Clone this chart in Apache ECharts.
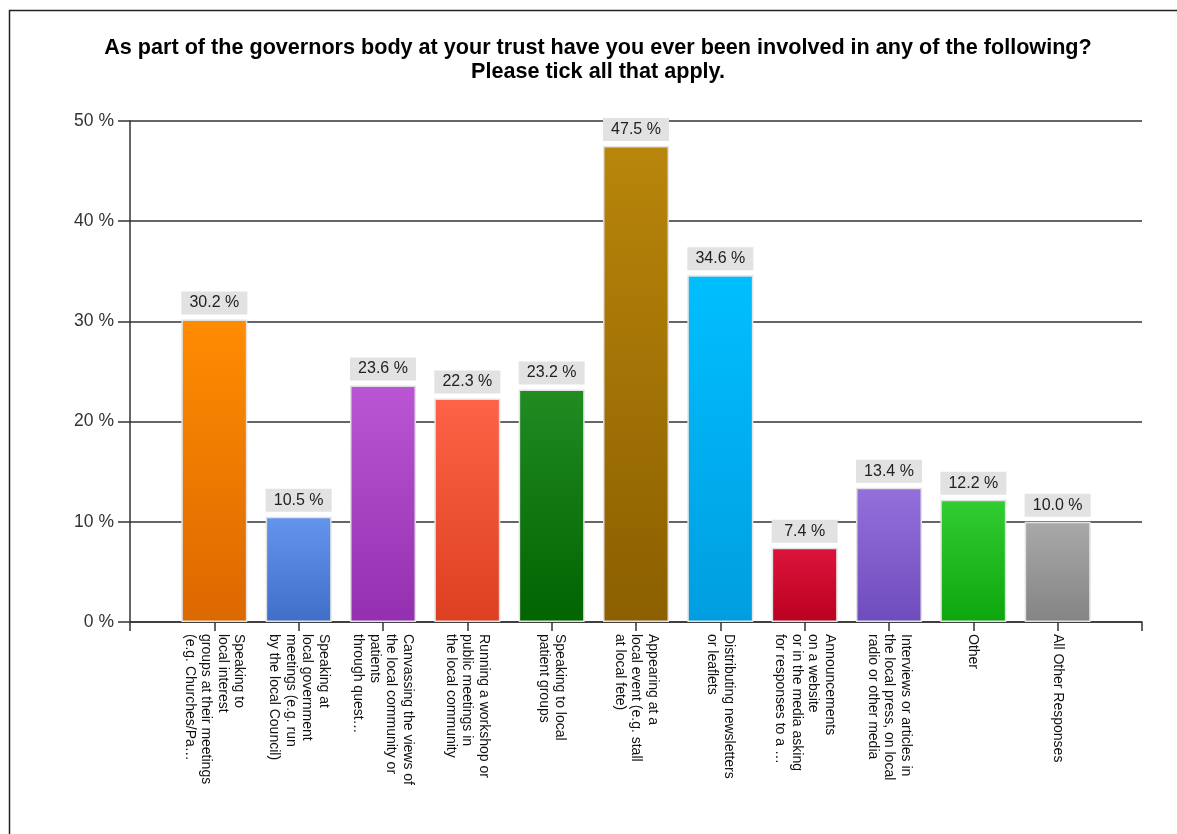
<!DOCTYPE html>
<html>
<head>
<meta charset="utf-8">
<script src="https://cdn.jsdelivr.net/npm/echarts@6/dist/echarts.min.js"></script>
<style>
  html, body { margin: 0; padding: 0; background: #fff; }
  #chart { width: 1177px; height: 834px; }
</style>
</head>
<body>
<div id="chart"></div>
<script>
// Survey answers (multi-select) with share of respondents
const titleText = 'As part of the governors body at your trust have you ever been involved in any of the following?\nPlease tick all that apply.';
const categories = [
  'Speaking to\nlocal interest\ngroups at their meetings\n(e.g. Churches/Pa…',
  'Speaking at\nlocal government\nmeetings (e.g. run\nby the local Council)',
  'Canvassing the views of\nthe local community or\npatients\nthrough quest…',
  'Running a workshop or\npublic meetings in\nthe local community',
  'Speaking to local\npatient groups',
  'Appearing at a\nlocal event (e.g. stall\nat local fete)',
  'Distributing newsletters\nor leaflets',
  'Announcements\non a website\nor in the media asking\nfor responses to a …',
  'Interviews or articles in\nthe local press, on local\nradio or other media',
  'Other',
  'All Other Responses'
];
const values = [30.2, 10.5, 23.6, 22.3, 23.2, 47.5, 34.6, 7.4, 13.4, 12.2, 10.0];
const topColors    = ['#ff8c00', '#6495ed', '#ba55d3', '#ff6347', '#228b22', '#b8860b', '#00bfff', '#dc143c', '#9370db', '#32cd32', '#a9a9a9'];
const bottomColors = ['#dc6800', '#3f6fc8', '#9430b0', '#dc4020', '#006400', '#8c5f00', '#009ee0', '#bb0020', '#6f4cbc', '#0ea60e', '#848484'];
const yTicks = [0, 10, 20, 30, 40, 50];

const FONT = '"Liberation Sans", Arial, sans-serif';

// Axis slots: one empty slot at each end so bars sit one step in from the edges
const axisData = [''].concat(categories, ['']);
const barData = ['-'].concat(values.map((v, i) => ({
  value: v,
  itemStyle: {
    color: new echarts.graphic.LinearGradient(0, 0, 0, 1, [
      { offset: 0, color: topColors[i] },
      { offset: 1, color: bottomColors[i] }
    ])
  }
})), ['-']);

const chart = echarts.init(document.getElementById('chart'), null, { renderer: 'canvas' });
chart.setOption({
  backgroundColor: '#ffffff',
  animation: false,
  textStyle: { fontFamily: FONT },
  graphic: [{
    type: 'rect',
    left: 7, top: 8,
    shape: { width: 1250, height: 900 },
    style: { fill: 'none', stroke: '#222', lineWidth: 1.5 },
    silent: true
  }, {
    // chart heading, centred inside the frame
    type: 'text',
    x: 598, y: 36,
    silent: true,
    style: {
      text: titleText,
      fill: '#000',
      font: 'bold 21.6px ' + FONT,
      lineHeight: 24,
      align: 'center',
      verticalAlign: 'top'
    }
  }],
  grid: { left: 130, right: 35, top: 121, bottom: 212, containLabel: false },
  xAxis: {
    type: 'category',
    data: axisData,
    boundaryGap: false,
    axisLine: { lineStyle: { color: '#333', width: 1.5 } },
    axisTick: { show: true, length: 9, alignWithLabel: true, lineStyle: { color: '#333', width: 1.5 } },
    axisLabel: {
      interval: 0,
      rotate: -90,
      margin: 12,
      fontSize: 14,
      lineHeight: 16.5,
      color: '#111',
      fontFamily: FONT
    },
    splitLine: { show: false }
  },
  yAxis: {
    type: 'value',
    min: 0,
    max: 50,
    interval: 10,
    axisLine: { show: true, lineStyle: { color: '#333', width: 1.5 } },
    axisTick: { show: true, length: 12, lineStyle: { color: '#333', width: 1.5 } },
    axisLabel: {
      margin: 16,
      fontSize: 17.5,
      color: '#333',
      fontFamily: FONT,
      formatter: v => (yTicks.indexOf(v) >= 0 ? v + ' %' : '')
    },
    splitLine: { show: true, lineStyle: { color: '#333', width: 1.5 } }
  },
  series: [{
    type: 'bar',
    data: barData,
    barWidth: 66,
    itemStyle: { borderColor: '#e2e2e2', borderWidth: 1.5 },
    label: {
      show: true,
      position: 'top',
      distance: 5,
      formatter: p => Number(p.value).toFixed(1) + ' %',
      backgroundColor: '#e2e2e2',
      width: 66,
      align: 'center',
      padding: [3.5, 0, 3.5, 0],
      fontSize: 16,
      lineHeight: 16,
      color: '#222',
      fontFamily: FONT
    }
  }]
});
</script>
</body>
</html>
